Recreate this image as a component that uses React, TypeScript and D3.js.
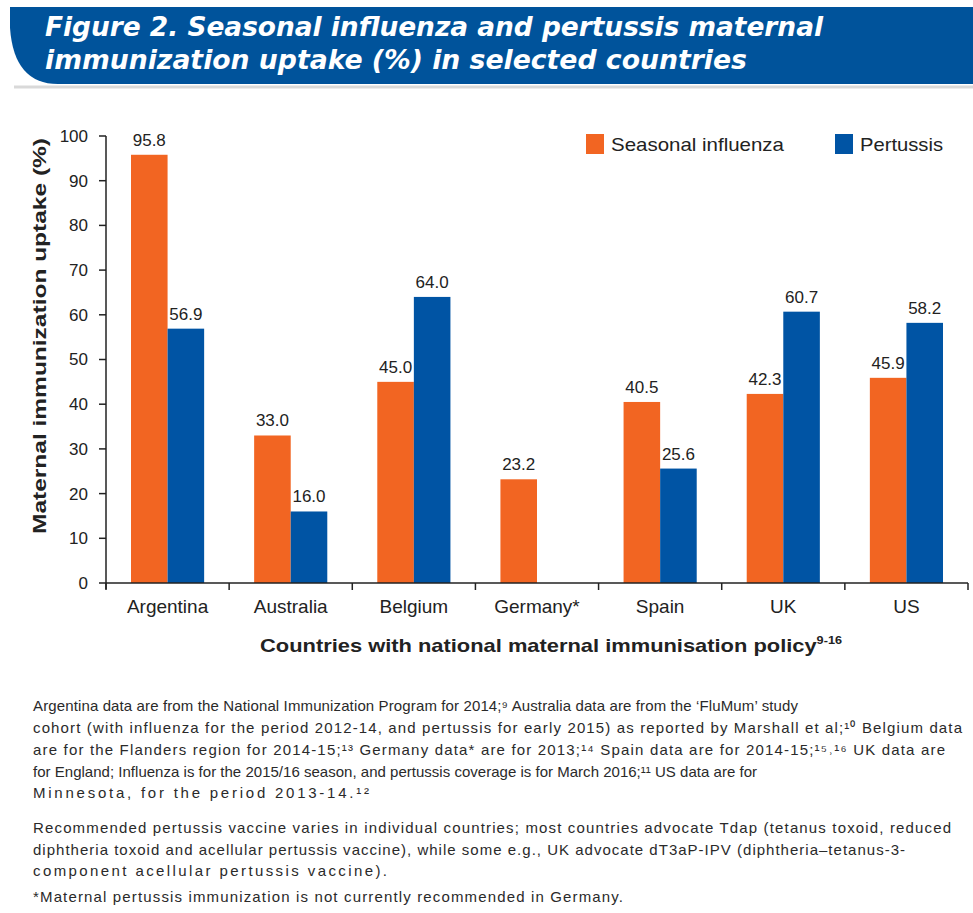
import React from "react";
import * as d3 from "d3";

// Uptake (%) by country
const countries = ["Argentina", "Australia", "Belgium", "Germany*", "Spain", "UK", "US"];
const influenzaUptake = [95.8, 33.0, 45.0, 23.2, 40.5, 42.3, 45.9];
const pertussisUptake: (number | null)[] = [56.9, 16.0, 64.0, null, 25.6, 60.7, 58.2];
const seriesNames = ["Seasonal influenza", "Pertussis"];
const yTicks = [0, 10, 20, 30, 40, 50, 60, 70, 80, 90, 100];

const titleLines = [
  "Figure 2. Seasonal influenza and pertussis maternal",
  "immunization uptake (%) in selected countries",
];

// Footnote lines (reference numbers as superscript characters)
const noteLines = [
  "Argentina data are from the National Immunization Program for 2014;\u2079 Australia data are from the \u2018FluMum\u2019 study",
  "cohort (with influenza for the period 2012-14, and pertussis for early 2015) as reported by Marshall et al;\u00b9\u2070 Belgium data",
  "are for the Flanders region for 2014-15;\u00b9\u00b3 Germany data* are for 2013;\u00b9\u2074 Spain data are for 2014-15;\u00b9\u2075\u02d2\u00b9\u2076 UK data are",
  "for England; Influenza is for the 2015/16 season, and pertussis coverage is for March 2016;\u00b9\u00b9 US data are for",
  "Minnesota, for the period 2013-14.\u00b9\u00b2",
  "Recommended pertussis vaccine varies in individual countries; most countries advocate Tdap (tetanus toxoid, reduced",
  "diphtheria toxoid and acellular pertussis vaccine), while some e.g., UK advocate dT3aP-IPV (diphtheria\u2013tetanus-3-",
  "component acellular pertussis vaccine).",
  "*Maternal pertussis immunization is not currently recommended in Germany.",
];
const noteBaselines = [711, 733, 755, 777, 798, 833, 855, 876, 902];
const noteWidths = [765, 929, 912, 724, 336, 918, 872, 354, 590];

const ORANGE = "#f26522";
const BLUE = "#0054a4";
const BANNER = "#00539b";
const TEXT = "#222";
const SANS = "'Liberation Sans', Arial, sans-serif";

export default function App() {
  const width = 973;
  const height = 913;

  const x0 = d3.scaleBand<string>().domain(countries).range([106, 968]).padding(0);
  const bw = x0.bandwidth();
  const x1 = d3.scaleBand<string>().domain(seriesNames).range([25, bw - 25]).padding(0);
  const y = d3.scaleLinear().domain([0, 100]).range([583, 136]);

  const boundaries = countries.map((c) => x0(c) as number).concat([968]);

  const bars: { key: string; x: number; w: number; v: number; color: string }[] = [];
  countries.forEach((c, i) => {
    const vals = [influenzaUptake[i], pertussisUptake[i]];
    vals.forEach((v, j) => {
      if (v == null) return;
      bars.push({
        key: `${c}-${j}`,
        x: (x0(c) as number) + (x1(seriesNames[j]) as number),
        w: x1.bandwidth(),
        v,
        color: j === 0 ? ORANGE : BLUE,
      });
    });
  });

  return (
    <svg width={width} height={height} style={{ display: "block", position: "absolute", left: 0, top: 0 }}>
      <rect width={width} height={height} fill="#fff" />

      {/* Title banner */}
      <path d="M14,87 L973,87" stroke="#c9c9c9" strokeWidth={3} opacity={0.7} />
      <path d="M10,7 L973,7 L973,84 L58,84 Q14,84 10,28 Z" fill={BANNER} />
      {titleLines.map((t, i) => (
        <text
          key={i}
          x={45}
          y={36 + i * 33}
          fill="#fff"
          fontFamily="'DejaVu Sans Condensed', 'Open Sans', sans-serif"
          fontWeight={700}
          fontStyle="italic"
          fontSize={27}
          textLength={i === 0 ? 778 : 702}
          lengthAdjust="spacingAndGlyphs"
        >
          {t}
        </text>
      ))}

      {/* Y axis */}
      <line x1={106} x2={106} y1={y(100)} y2={589} stroke="#222" strokeWidth={1.5} />
      {yTicks.map((t) => (
        <g key={t}>
          <line x1={99} x2={106} y1={y(t)} y2={y(t)} stroke="#222" strokeWidth={1.5} />
          <text x={88} y={y(t)} dy="0.35em" textAnchor="end" fontFamily={SANS} fontSize={17} fill={TEXT}>
            {t}
          </text>
        </g>
      ))}
      <text
        transform="translate(46,336) rotate(-90)"
        textAnchor="middle"
        fontFamily={SANS}
        fontWeight={700}
        fontSize={19}
        fill={TEXT}
        textLength={396}
        lengthAdjust="spacingAndGlyphs"
      >
        Maternal immunization uptake (%)
      </text>

      {/* Bars */}
      {bars.map((b) => (
        <g key={b.key}>
          <rect x={b.x} y={y(b.v)} width={b.w} height={y(0) - y(b.v)} fill={b.color} />
          <text x={b.x + b.w / 2} y={y(b.v) - 9} textAnchor="middle" fontFamily={SANS} fontSize={17} fill={TEXT}>
            {b.v.toFixed(1)}
          </text>
        </g>
      ))}

      {/* X axis */}
      <line x1={106} x2={968} y1={583} y2={583} stroke="#222" strokeWidth={1.5} />
      {boundaries.map((bx, i) => (
        <line key={i} x1={bx} x2={bx} y1={583} y2={590} stroke="#222" strokeWidth={1.5} />
      ))}
      {countries.map((c) => (
        <text
          key={c}
          x={(x0(c) as number) + bw / 2}
          y={613}
          textAnchor="middle"
          fontFamily={SANS}
          fontSize={19}
          fill={TEXT}
        >
          {c}
        </text>
      ))}
      <text
        x={260}
        y={652}
        fontFamily={SANS}
        fontWeight={700}
        fontSize={19}
        fill={TEXT}
        textLength={582}
        lengthAdjust="spacingAndGlyphs"
      >
        Countries with national maternal immunisation policy
        <tspan fontSize={11} dy={-8}>9-16</tspan>
      </text>

      {/* Legend */}
      {seriesNames.map((s, i) => {
        const lx = i === 0 ? 586 : 835;
        return (
          <g key={s}>
            <rect x={lx} y={134} width={18} height={20} fill={i === 0 ? ORANGE : BLUE} />
            <text x={lx + 25} y={151} fontFamily={SANS} fontSize={19} fill={TEXT}
              textLength={i === 0 ? 173 : 83} lengthAdjust="spacingAndGlyphs">
              {s}
            </text>
          </g>
        );
      })}

      {/* Footnotes */}
      {noteLines.map((t, i) => (
        <text
          key={i}
          x={33}
          y={noteBaselines[i]}
          fontFamily={SANS}
          fontSize={15}
          fill="#2a2a2a"
          textLength={noteWidths[i]}
          lengthAdjust="spacing"
        >
          {t}
        </text>
      ))}
    </svg>
  );
}
